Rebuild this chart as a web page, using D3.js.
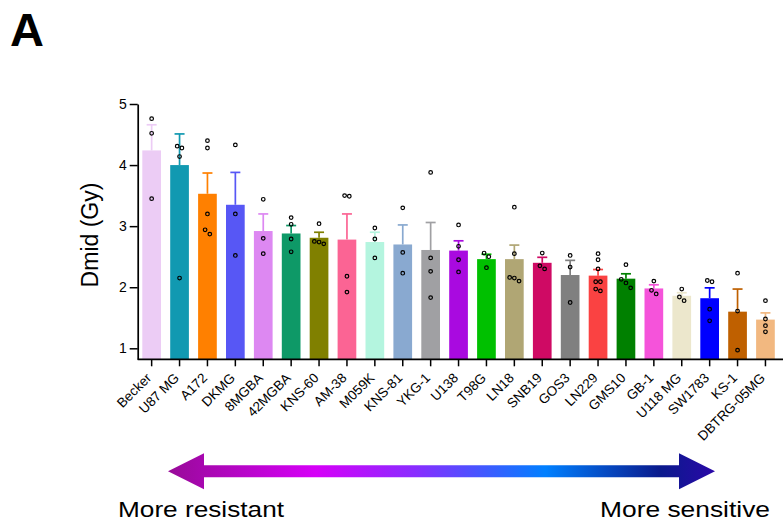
<!DOCTYPE html>
<html>
<head>
<meta charset="utf-8">
<script src="https://cdn.jsdelivr.net/npm/d3@7"></script>
<style>
  body { margin: 0; background: #fff; }
  svg { display: block; font-family: Arial, "Liberation Sans", sans-serif; }
</style>
</head>
<body>
<div id="chart"></div>
<script>
// cell lines, ordered from most resistant to most sensitive
const categories = ["Becker", "U87 MG", "A172", "DKMG", "8MGBA", "42MGBA", "KNS-60", "AM-38",
    "M059K", "KNS-81", "YKG-1", "U138", "T98G", "LN18", "SNB19", "GOS3", "LN229", "GMS10",
    "GB-1", "U118 MG", "SW1783", "KS-1", "DBTRG-05MG"];

const barColors = ["#ecccf5", "#1199b1", "#ff8000", "#5757f5", "#dd88f2", "#0e9967", "#808000",
    "#fb6494", "#b4f5df", "#89a9d0", "#a0a0a3", "#a90ae0", "#00c000", "#b0a674", "#cf0a64",
    "#808080", "#fa4242", "#008000", "#f553da", "#ece7cc", "#0000ff", "#bf6000", "#f2b880"];

// mean Dmid and SD (Gy)
const means = [4.24, 4.00, 3.53, 3.35, 2.92, 2.88, 2.81, 2.78, 2.74, 2.70, 2.61, 2.60, 2.46,
    2.46, 2.40, 2.20, 2.19, 2.14, 1.98, 1.86, 1.82, 1.60, 1.47];
const sds = [0.42, 0.51, 0.34, 0.53, 0.28, 0.13, 0.09, 0.42, 0.16, 0.32, 0.45, 0.16, 0.08,
    0.23, 0.09, 0.24, 0.10, 0.08, 0.06, 0.05, 0.17, 0.37, 0.11];

// individual replicates
const replicates = [
    [4.76, 4.52, 3.45],
    [4.31, 4.28, 4.14, 2.15],
    [4.40, 4.28, 3.20, 2.94, 2.87],
    [4.33, 3.20, 2.52],
    [3.44, 2.80, 2.55],
    [3.14, 3.03, 2.79, 2.58],
    [3.04, 2.75, 2.74, 2.71],
    [3.50, 3.49, 2.18, 1.92],
    [2.97, 2.79, 2.48],
    [3.30, 2.57, 2.23],
    [3.88, 2.48, 2.26, 1.83],
    [3.02, 2.67, 2.45, 2.25],
    [2.56, 2.50, 2.32],
    [3.31, 2.55, 2.16, 2.15, 2.10],
    [2.56, 2.35, 2.30],
    [2.52, 2.33, 1.75],
    [2.55, 2.45, 2.30, 2.09, 2.09, 1.97, 1.94],
    [2.37, 2.13, 2.07, 1.99],
    [2.10, 1.95, 1.89],
    [1.97, 1.84, 1.78],
    [2.11, 2.09, 1.64, 1.45],
    [2.23, 1.61, 0.97],
    [1.78, 1.48, 1.37, 1.27]
];

const yTicks = [1, 2, 3, 4, 5];

const W = 783, H = 521;

const svg = d3.select("#chart")
    .append("svg")
    .attr("width", W)
    .attr("height", H);

const x = d3.scaleBand()
    .domain(categories)
    .range([137.7, 779.4])
    .paddingInner(0.33)
    .paddingOuter(0.165);

const y = d3.scaleLinear()
    .domain([0.82, 5])
    .range([359.3, 104]);

const color = d3.scaleOrdinal().domain(categories).range(barColors);

// bars
svg.append("g")
    .selectAll("rect")
    .data(categories)
    .enter()
    .append("rect")
    .attr("x", d => x(d))
    .attr("y", (d, i) => y(means[i]))
    .attr("width", x.bandwidth())
    .attr("height", (d, i) => y(0.82) - y(means[i]))
    .attr("fill", d => color(d));

// error bars (upper SD only)
const err = svg.append("g")
    .selectAll("g")
    .data(categories)
    .enter()
    .append("g")
    .attr("stroke", d => color(d))
    .attr("stroke-width", 1.7);

err.append("line")
    .attr("x1", d => x(d) + x.bandwidth() / 2)
    .attr("x2", d => x(d) + x.bandwidth() / 2)
    .attr("y1", (d, i) => y(means[i]))
    .attr("y2", (d, i) => y(means[i] + sds[i]));

err.append("line")
    .attr("x1", d => x(d) + x.bandwidth() / 2 - 5)
    .attr("x2", d => x(d) + x.bandwidth() / 2 + 5)
    .attr("y1", (d, i) => y(means[i] + sds[i]))
    .attr("y2", (d, i) => y(means[i] + sds[i]));

// replicate points, spread sideways where they would overlap
const dots = [];
categories.forEach((c, i) => {
    const vals = replicates[i].slice().sort((a, b) => b - a);
    let group = [];
    const flush = () => {
        group.forEach((v, k) => {
            dots.push({ cat: c, v: v, off: (k - (group.length - 1) / 2) * 4.7 });
        });
        group = [];
    };
    vals.forEach(v => {
        if (group.length && y(v) - y(group[group.length - 1]) >= 6) flush();
        group.push(v);
    });
    flush();
});

svg.append("g")
    .selectAll("circle")
    .data(dots)
    .enter()
    .append("circle")
    .attr("cx", d => x(d.cat) + x.bandwidth() / 2 + d.off)
    .attr("cy", d => y(d.v))
    .attr("r", 1.8)
    .attr("fill", "none")
    .attr("stroke", "#000")
    .attr("stroke-width", 1.2);

// y axis
const yAxis = svg.append("g")
    .attr("transform", "translate(137.7,0)")
    .call(d3.axisLeft(y).tickValues(yTicks).tickFormat(d3.format("d")).tickSize(8).tickPadding(3).tickSizeOuter(0));
yAxis.select(".domain").attr("stroke-width", 1.7);
yAxis.selectAll(".tick line").attr("stroke-width", 1.5);
yAxis.selectAll("text").attr("font-size", 14).attr("fill", "#000").attr("font-family", null);

// x axis
const xAxis = svg.append("g")
    .attr("transform", "translate(0,359.3)")
    .call(d3.axisBottom(x).tickSize(7).tickSizeOuter(0));
xAxis.select(".domain").remove();
xAxis.append("line")
    .attr("x1", 137.7).attr("x2", 783)
    .attr("stroke", "#000").attr("stroke-width", 1.7);
xAxis.selectAll(".tick line").attr("stroke-width", 1.5);
xAxis.selectAll("text")
    .attr("font-size", 13.5)
    .attr("fill", "#000")
    .attr("font-family", null)
    .attr("text-anchor", "end")
    .attr("y", 0)
    .attr("dy", 0)
    .attr("transform", "translate(0.5,19.5) rotate(-45)");

// axis title
svg.append("text")
    .attr("transform", "translate(98,235) rotate(-90)")
    .attr("text-anchor", "middle")
    .attr("font-size", 23)
    .text("Dmid (Gy)");

// panel label
svg.append("text")
    .attr("x", 10)
    .attr("y", 46)
    .attr("font-size", 47)
    .attr("font-weight", "bold")
    .text("A");

// gradient arrow
const grad = svg.append("defs").append("linearGradient")
    .attr("id", "arrowGrad")
    .attr("gradientUnits", "userSpaceOnUse")
    .attr("x1", 168).attr("x2", 715)
    .attr("y1", 0).attr("y2", 0);
[[0, "#980a98"], [0.27, "#d600f8"], [0.45, "#8a2cff"], [0.69, "#0080ff"], [0.9, "#0a1a8c"], [1, "#2a08a8"]]
    .forEach(s => grad.append("stop").attr("offset", s[0]).attr("stop-color", s[1]));

const ay = 471.3;
svg.append("path")
    .attr("d", `M168,${ay} L204,${ay - 18} L204,${ay - 6} L679,${ay - 6} L679,${ay - 18} L715,${ay} L679,${ay + 18} L679,${ay + 6} L204,${ay + 6} L204,${ay + 18} Z`)
    .attr("fill", "url(#arrowGrad)");

svg.append("text")
    .attr("x", 118)
    .attr("y", 517)
    .attr("font-size", 22)
    .attr("textLength", 166)
    .attr("lengthAdjust", "spacingAndGlyphs")
    .text("More resistant");

svg.append("text")
    .attr("x", 600)
    .attr("y", 517)
    .attr("font-size", 22)
    .attr("textLength", 170)
    .attr("lengthAdjust", "spacingAndGlyphs")
    .text("More sensitive");
</script>
</body>
</html>
